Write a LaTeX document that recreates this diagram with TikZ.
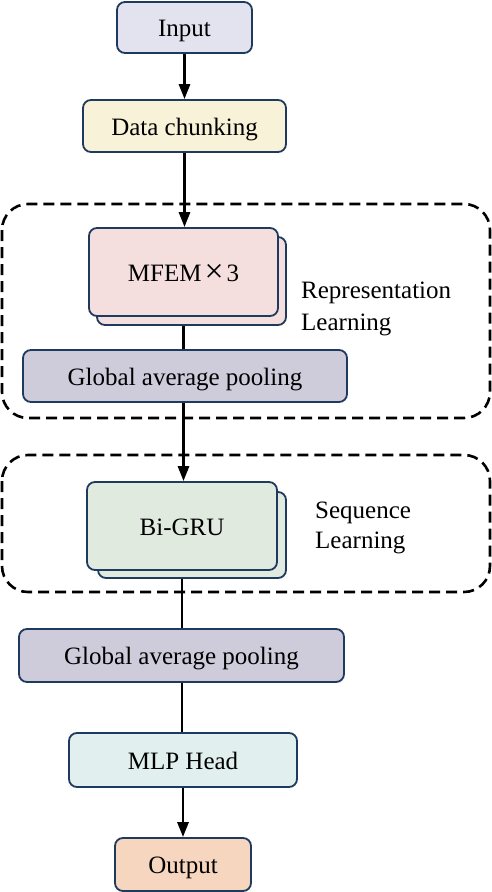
\documentclass[tikz,border=0pt]{standalone}
\usepackage{fontspec}
\setmainfont{Liberation Serif}
\usepackage{xcolor}
\usetikzlibrary{positioning,arrows.meta}

\definecolor{edgeblue}{HTML}{1F3A5F}
\definecolor{inputfill}{HTML}{E2E3EF}
\definecolor{chunkfill}{HTML}{F8F2D9}
\definecolor{mfemfill}{HTML}{F5DFDE}
\definecolor{poolfill}{HTML}{CECBDB}
\definecolor{grufill}{HTML}{E1EADF}
\definecolor{mlpfill}{HTML}{E1F0EE}
\definecolor{outfill}{HTML}{F6D6BF}

\tikzset{
  box/.style={draw=edgeblue, line width=1.8pt, rounded corners=8pt, inner sep=0pt, align=center,
    text height=19pt, text depth=1pt},
  link/.style={line width=2.8pt, black},
  arr/.style={link, -{Triangle[length=15pt,width=11pt]}},
  group/.style={draw, line width=2.6pt, dash pattern=on 11pt off 6pt, rounded corners=26pt}
}

\begin{document}
\begin{tikzpicture}[x=1pt,y=-1pt, font=\fontsize{25}{32}\selectfont]
\useasboundingbox (0,0) rectangle (492,892);
% dashed groups
\draw[group] (2,204) rectangle (490,418);
\draw[group] (2,455) rectangle (490,592);
% blocks
\node[box, fill=inputfill, minimum width=135pt, minimum height=51pt] (in) at (184.5,27.5) {Input};
\node[box, fill=chunkfill, minimum width=203pt, minimum height=52pt] (chunk) at (184.5,126) {Data chunking};
\node[box, fill=mfemfill, minimum width=189pt, minimum height=88pt] (mfemb) at (191.5,281) {};
\node[box, fill=mfemfill, minimum width=189pt, minimum height=88pt] (mfem) at (183.5,272) {MFEM\kern3pt\raisebox{-1pt}{\scalebox{1.35}{×}}\kern3pt3};
\node[box, fill=poolfill, minimum width=324pt, minimum height=52pt] (gap1) at (185,376) {Global average pooling};
\node[box, fill=grufill, minimum width=188pt, minimum height=86pt] (grub) at (192,535) {};
\node[box, fill=grufill, minimum width=190pt, minimum height=88pt] (gru) at (182,526) {Bi-GRU};
\node[box, fill=poolfill, minimum width=325pt, minimum height=53pt] (gap2) at (181.5,655.5) {Global average pooling};
\node[box, fill=mlpfill, minimum width=228pt, minimum height=54pt] (mlp) at (183,760) {MLP Head};
\node[box, fill=outfill, minimum width=136pt, minimum height=53pt] (out) at (183,864.5) {Output};
% group labels
\node[anchor=west, align=left, inner sep=0pt] (replab) at (301,309) {Representation\\Learning};
\node[anchor=west, align=left, inner sep=0pt, font=\fontsize{25}{30}\selectfont] (seqlab) at (315,528) {Sequence\\Learning};
% connectors
\draw[arr] (in) -- (chunk);
\draw[arr] (chunk.south) -- (chunk.south |- mfem.north);
\draw[link] (mfem.south |- mfemb.south) -- (mfem.south |- gap1.north);
\draw[arr] (mfem.south |- gap1.south) -- (mfem.south |- gru.north);
\draw[link] (gru.south |- grub.south) -- (gru.south |- gap2.north);
\draw[link] (gru.south |- gap2.south) -- (gru.south |- mlp.north);
\draw[arr] (mlp) -- (out);
\end{tikzpicture}
\end{document}
